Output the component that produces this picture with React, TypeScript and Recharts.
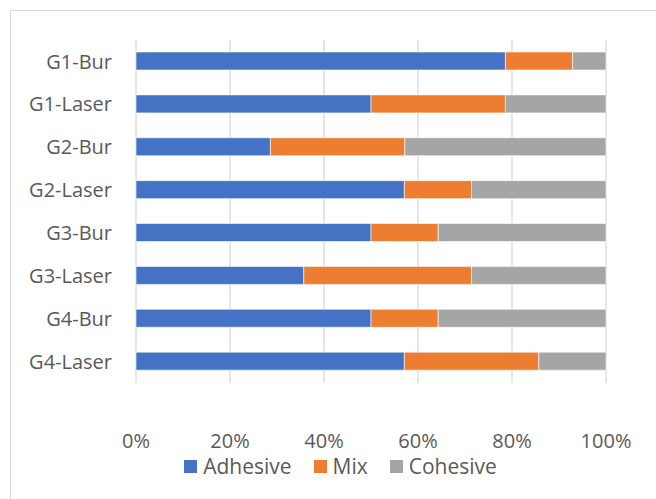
import { BarChart, Bar, XAxis, YAxis, CartesianGrid, Legend } from "recharts";

const groups = ["G1-Bur", "G1-Laser", "G2-Bur", "G2-Laser", "G3-Bur", "G3-Laser", "G4-Bur", "G4-Laser"];
const adhesive = [78.6, 50, 28.6, 57.1, 50, 35.7, 50, 57.1];
const mix = [14.3, 28.6, 28.6, 14.3, 14.3, 35.7, 14.3, 28.6];
const cohesive = [7.1, 21.4, 42.8, 28.6, 35.7, 28.6, 35.7, 14.3];
const xTicks = [0, 20, 40, 60, 80, 100];

const series = [
  { key: "Adhesive", color: "#4472C4" },
  { key: "Mix", color: "#ED7D31" },
  { key: "Cohesive", color: "#A5A5A5" },
];

const data = groups.map((g, i) => ({
  name: g,
  Adhesive: adhesive[i],
  Mix: mix[i],
  Cohesive: cohesive[i],
}));

const FONT = "'Open Sans', sans-serif";
const TEXT = "#595959";
const FS = 20;

const LegendContent = () => (
  <div style={{ display: "flex", justifyContent: "center", alignItems: "center", fontFamily: FONT, fontSize: 21, color: TEXT, paddingLeft: 25 }}>
    {series.map((s, i) => (
      <div key={s.key} style={{ display: "flex", alignItems: "center", marginRight: i < series.length - 1 ? 22 : 0 }}>
        <span style={{ display: "inline-block", width: 13, height: 13, background: s.color, marginRight: 6 }} />
        <span>{s.key}</span>
      </div>
    ))}
  </div>
);

export default function App() {
  return (
    <div style={{ position: "fixed", left: 0, top: 0, width: 656, height: 499, overflow: "hidden", background: "#fff" }}>
      <div
        style={{
          position: "absolute",
          left: 10,
          top: 10,
          width: 700,
          height: 560,
          border: "1px solid #d9d9d9",
          boxSizing: "border-box",
        }}
      />
      <div style={{ position: "absolute", left: 0, top: 0 }}>
        <BarChart
          width={656}
          height={499}
          data={data}
          layout="vertical"
          margin={{ top: 40, right: 50, bottom: 46, left: 0 }}
          barSize={18}
        >
          <CartesianGrid horizontal={false} vertical={true} stroke="#d9d9d9" strokeWidth={1.3} />
          <XAxis
            type="number"
            domain={[0, 100]}
            ticks={xTicks}
            tickFormatter={(v: number) => `${v}%`}
            axisLine={false}
            tickLine={false}
            tickMargin={45}
            height={70}
            tick={{ fill: TEXT, fontSize: FS, fontFamily: FONT }}
            interval={0}
          />
          <YAxis
            type="category"
            dataKey="name"
            width={136}
            axisLine={false}
            tickLine={false}
            tickMargin={18}
            tick={{ fill: TEXT, fontSize: FS, fontFamily: FONT }}
            interval={0}
          />
          <Legend
            content={<LegendContent />}
            wrapperStyle={{ top: 452, left: 0, width: 656, height: 0 }}
          />
          {series.map((s) => (
            <Bar
              key={s.key}
              dataKey={s.key}
              stackId="a"
              fill={s.color}
              stroke="#fff"
              strokeWidth={0.6}
              isAnimationActive={false}
            />
          ))}
        </BarChart>
      </div>
    </div>
  );
}
